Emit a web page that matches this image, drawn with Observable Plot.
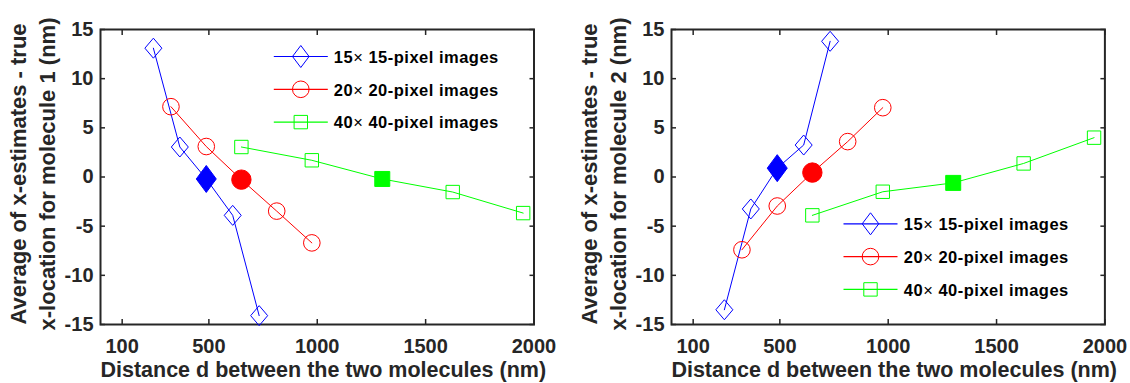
<!DOCTYPE html>
<html><head><meta charset="utf-8">
<script src="https://cdn.jsdelivr.net/npm/d3@7"></script>
<script src="https://cdn.jsdelivr.net/npm/@observablehq/plot@0.6"></script>
<style>
body{margin:0;background:#fff;}
#wrap{display:flex;width:1130px;height:383px;overflow:hidden;}
svg{overflow:visible;}
svg text{font-family:"Liberation Sans", Arial, sans-serif;}
.legend-text text, text.legend-text{letter-spacing:0.5px;}
</style></head><body><div id="wrap"></div>
<script>
// ---- data ----
const xTicks = [100, 500, 1000, 1500, 2000];
const yTicks = [-15, -10, -5, 0, 5, 10, 15];
const seriesNames = ["15× 15-pixel images", "20× 20-pixel images", "40× 40-pixel images"];
const seriesColors = ["#0000ff", "#ff0000", "#00ff00"];
const dist15 = [244, 366, 488, 610, 732];
const dist20 = [325, 488, 650, 813, 975];
const dist40 = [650, 975, 1300, 1625, 1950];
const filledPoint = [false, false, true, false, false];
// molecule 1 (left panel)
const mol1_15 = [13.1, 3.05, -0.2, -3.9, -14.1];
const mol1_20 = [7.15, 3.1, -0.27, -3.47, -6.7];
const mol1_40 = [3.05, 1.7, -0.2, -1.53, -3.67];
// molecule 2 (right panel)
const mol2_15 = [-13.5, -3.25, 0.9, 3.25, 13.8];
const mol2_20 = [-7.4, -2.95, 0.45, 3.6, 7.05];
const mol2_40 = [-3.9, -1.5, -0.6, 1.38, 4.0];
const xLabel = "Distance d between the two molecules (nm)";
const yLabel1 = "Average of x-estimates - true\nx-location for molecule 1 (nm)";
const yLabel2 = "Average of x-estimates - true\nx-location for molecule 2 (nm)";

// ---- symbols ----
const diamond = (hw, hh) => ({draw(c){c.moveTo(0,-hh);c.lineTo(hw,0);c.lineTo(0,hh);c.lineTo(-hw,0);c.closePath();}});
const square = (h) => ({draw(c){c.moveTo(-h,-h);c.lineTo(h,-h);c.lineTo(h,h);c.lineTo(-h,h);c.closePath();}});
const circle = (r) => ({draw(c){c.moveTo(r,0);c.arc(0,0,r,0,2*Math.PI);c.closePath();}});
const hline = (h) => ({draw(c){c.moveTo(-h,0);c.lineTo(h,0);}});
const hollowSym = [diamond(8.5, 10), circle(8.3), square(6.7)];
const filledSym = [diamond(10, 13.5), circle(9.7), square(7.5)];
const legendSym = [diamond(8.3, 11), circle(8.3), square(6.7)];

const AX = "#262626";
const fmt = d => String(d);

function panel({ys, yLabel, mL, mR, legX, legY, legTX}) {
  const dists = [dist15, dist20, dist40];
  const marks = [];
  marks.push(Plot.frame({stroke: AX, strokeWidth: 2}));
  marks.push(Plot.axisX(xTicks, {anchor: "bottom", tickSize: -5, tickPadding: 19, tickFormat: fmt, fontSize: 20, fontWeight: "bold", label: null, color: AX, strokeWidth: 1.5}));
  marks.push(Plot.axisX(xTicks, {anchor: "top", tickSize: -5, tickFormat: () => "", label: null, color: AX, strokeWidth: 1.5}));
  marks.push(Plot.axisY(yTicks, {anchor: "left", tickSize: -5, tickPadding: 12, tickFormat: fmt, fontSize: 20, fontWeight: "bold", label: null, color: AX, strokeWidth: 1.5}));
  marks.push(Plot.axisY(yTicks, {anchor: "right", tickSize: -5, tickFormat: () => "", label: null, color: AX, strokeWidth: 1.5}));
  dists.forEach((dist, i) => {
    const pts = dist.map((d, j) => ({d, v: ys[i][j], f: filledPoint[j]}));
    marks.push(Plot.line(pts, {x: "d", y: "v", stroke: seriesColors[i], strokeWidth: 1}));
    marks.push(Plot.dot(pts.filter(p => !p.f), {x: "d", y: "v", symbol: hollowSym[i], r: 1, stroke: seriesColors[i], strokeWidth: 1, fill: "none"}));
    marks.push(Plot.dot(pts.filter(p => p.f), {x: "d", y: "v", symbol: filledSym[i], r: 1, stroke: seriesColors[i], strokeWidth: 1, fill: seriesColors[i]}));
    // legend entry
    const dy = legY + i * 32.8;
    marks.push(Plot.dot([seriesNames[i]], {frameAnchor: "top-left", dx: legX, dy, symbol: hline(27), r: 1, stroke: seriesColors[i], strokeWidth: 1.2}));
    marks.push(Plot.dot([seriesNames[i]], {frameAnchor: "top-left", dx: legX, dy, symbol: legendSym[i], r: 1, stroke: seriesColors[i], strokeWidth: 1, fill: "none"}));
    marks.push(Plot.text([seriesNames[i]], {frameAnchor: "top-left", dx: legTX, dy: dy + 1, text: d => d, textAnchor: "start", lineAnchor: "middle", fontSize: 16.5, fontWeight: "bold", fill: "#000", className: "legend-text"}));
  });
  marks.push(Plot.text([xLabel], {frameAnchor: "bottom", dx: 6, dy: 46, text: d => d, lineAnchor: "middle", fontSize: 21.5, fontWeight: "bold", fill: AX}));
  marks.push(Plot.text([yLabel], {frameAnchor: "left", dx: -69, dy: -3, text: d => d, rotate: -90, lineAnchor: "middle", textAnchor: "middle", lineHeight: 1.28, fontSize: 22, fontWeight: "bold", fill: AX}));
  const svg = Plot.plot({
    width: 565, height: 383,
    marginLeft: mL, marginRight: mR, marginTop: 29, marginBottom: 59,
    x: {domain: [0, 2000]},
    y: {domain: [-15, 15]},
    style: {background: "#fff", fontFamily: "Liberation Sans, Arial, sans-serif"},
    marks
  });
  svg.querySelectorAll("text").forEach(t => {
    if (t.children.length === 0 && t.textContent.includes("×")) {
      const [a, b] = t.textContent.split("×");
      t.textContent = "";
      const ns = "http://www.w3.org/2000/svg";
      const s1 = document.createElementNS(ns, "tspan"); s1.textContent = a;
      const s2 = document.createElementNS(ns, "tspan"); s2.textContent = "×"; s2.setAttribute("font-weight", "normal");
      const s3 = document.createElementNS(ns, "tspan"); s3.textContent = b;
      t.append(s1, s2, s3);
    }
  });
  return svg;
}

const wrap = document.getElementById("wrap");
wrap.append(panel({ys: [mol1_15, mol1_20, mol1_40], yLabel: yLabel1, mL: 100, mR: 31.5, legX: 200.3, legY: 27, legTX: 233.3}));
wrap.append(panel({ys: [mol2_15, mol2_20, mol2_40], yLabel: yLabel2, mL: 106, mR: 25.6, legX: 199, legY: 194.3, legTX: 232.3}));
</script></body></html>
